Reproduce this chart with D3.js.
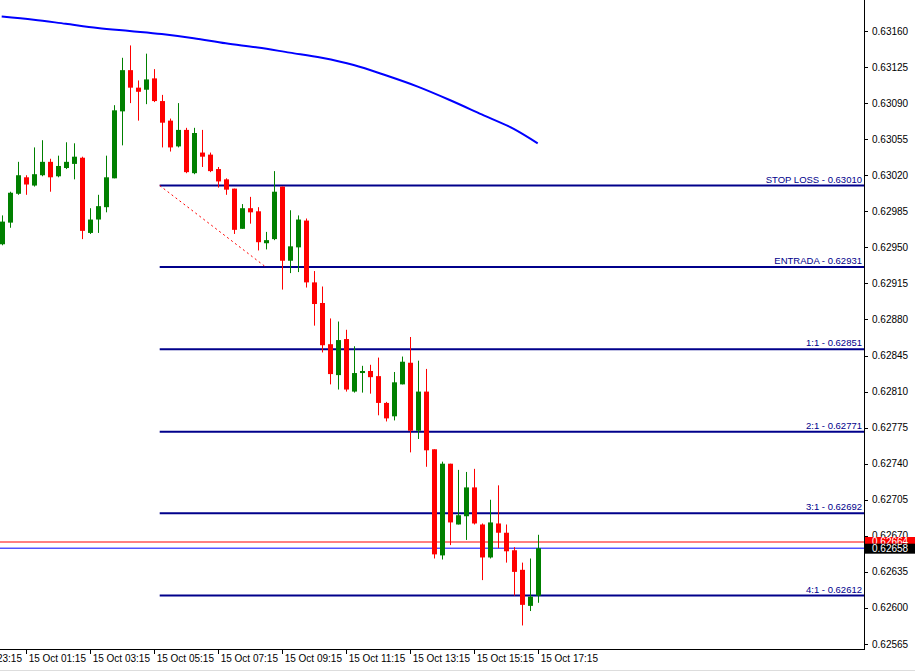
<!DOCTYPE html>
<html>
<head>
<meta charset="utf-8">
<script src="https://cdn.jsdelivr.net/npm/d3@7"></script>
<style>
body { margin: 0; background: #fff; }
text { font-family: "Liberation Sans", Arial, sans-serif; }
</style>
</head>
<body>
<svg id="chart" width="915" height="672"></svg>
<script>
// 15 minute candles, 15 Oct 00:30 .. 17:15 (prices in 1e-5 units)
const opens  = [62953,62974,63002,63018,63010,63020,63033,63019,63027,63031,63037,62964,62977,62989,63017,63082,63122,63105,63103,63114,
                63092,63073,63048,63064,63022,63042,63040,63026,63016,63007,62968,62988,62985,62954,62958,63009,62937,62950,62976,62916,
                62896,62856,62826,62861,62810,62828,62830,62825,62799,62786,62817,62838,62772,62810,62754,62651,62740,62681,62689,62717,
                62681,62649,62682,62673,62656,62637,62602,62612]
const highs  = [62981,63004,63033,63020,63047,63054,63036,63039,63052,63051,63038,62988,63001,63039,63088,63134,63146,63112,63138,63123,
                63098,63075,63090,63066,63066,63064,63042,63028,63017,63007,62992,62999,62989,62965,63024,63009,62986,62981,62978,62927,
                62912,62881,62878,62870,62854,62835,62836,62843,62800,62829,62844,62863,62840,62832,62754,62742,62740,62734,62732,62735,
                62682,62705,62719,62681,62659,62644,62648,62671]
const lows   = [62952,62969,63001,63001,63009,63019,63004,63018,63026,63016,62958,62963,62964,62984,63017,63049,63090,63073,63089,63091,
                63047,63043,63047,63022,63021,63028,63023,63008,63001,62963,62968,62973,62947,62948,62957,62909,62925,62926,62911,62874,
                62848,62817,62812,62810,62809,62809,62808,62787,62781,62782,62817,62751,62764,62737,62648,62647,62661,62681,62666,62681,
                62627,62648,62658,62644,62612,62583,62597,62605]
const closes = [62975,63003,63020,63011,63021,63033,63018,63029,63033,63038,62966,62977,62990,63018,63083,63122,63105,63101,63113,63092,
                63071,63047,63064,63023,63061,63038,63024,63014,63006,62967,62988,62984,62955,62957,63004,62937,62951,62977,62916,62895,
                62855,62827,62860,62812,62828,62830,62824,62799,62784,62819,62839,62772,62810,62753,62652,62740,62683,62690,62717,62682,
                62649,62683,62673,62655,62635,62603,62611,62658]

// moving average read every 4 candles
const maIndex  = [0,4,8,12,16,20,24,28,32,36,40,44,48,52,56,60,64,67]
const maValues = [63174,63171,63167,63163,63160,63157,63153,63148,63144,63139,63134,63127,63117,63106,63093,63079,63065,63051]

const levelNames  = ['STOP LOSS', 'ENTRADA', '1:1', '2:1', '3:1', '4:1']
const levelValues = [63010, 62931, 62851, 62771, 62692, 62612]

const priceTicks = [63160,63125,63090,63055,63020,62985,62950,62915,62880,62845,62810,62775,62740,62705,62670,62635,62600,62565]
const timeTickIndex = [-5,3,11,19,27,35,43,51,59,67]
const timeTickLabels = ['14 Oct 23:15','15 Oct 01:15','15 Oct 03:15','15 Oct 05:15','15 Oct 07:15','15 Oct 09:15',
                        '15 Oct 11:15','15 Oct 13:15','15 Oct 15:15','15 Oct 17:15']
const bid = 62658, ask = 62664

const plotW = 864, plotH = 649
const fmt = v => (v / 1e5).toFixed(5)

const svg = d3.select('#chart')
const x = d3.scaleLinear([0, 67], [1.7, 537.7])
const y = d3.scaleLinear([63160, 62565], [31, 644])

const plot = svg.append('g')

// ask / bid lines
plot.append('line').attr('x1', 0).attr('x2', plotW).attr('y1', y(ask)).attr('y2', y(ask))
    .attr('stroke', '#ff0000').attr('stroke-width', 1)
plot.append('line').attr('x1', 0).attr('x2', plotW).attr('y1', y(bid)).attr('y2', y(bid))
    .attr('stroke', '#0000ff').attr('stroke-width', 1)

// level lines
const x0 = x(20) - 2
plot.selectAll('.lvl').data(levelValues).join('line')
    .attr('x1', x0).attr('x2', plotW)
    .attr('y1', d => y(d)).attr('y2', d => y(d))
    .attr('stroke', '#00008b').attr('stroke-width', 2)
plot.selectAll('.lvlt').data(levelValues).join('text')
    .attr('x', plotW - 2).attr('y', d => y(d) - 3)
    .attr('text-anchor', 'end').attr('font-size', '9.5px').attr('fill', '#00008b')
    .text((d, i) => levelNames[i] + ' - ' + fmt(d))

// dashed trend line
plot.append('line')
    .attr('x1', x0).attr('y1', y(levelValues[0]))
    .attr('x2', x(33)).attr('y2', y(levelValues[1]))
    .attr('stroke', '#ff0000').attr('stroke-dasharray', '2,3')

// moving average
plot.append('path')
    .datum(maIndex.map((d, i) => [d, maValues[i]]))
    .attr('d', d3.line().x(d => x(d[0])).y(d => y(d[1])).curve(d3.curveMonotoneX))
    .attr('fill', 'none').attr('stroke', '#0000ff').attr('stroke-width', 2)

// candles
const candles = opens.map((o, i) => ({i, o, h: highs[i], l: lows[i], c: closes[i]}))
const col = d => d.c >= d.o ? '#008000' : '#ff0000'
plot.selectAll('.wick').data(candles).join('line')
    .attr('x1', d => Math.round(x(d.i)) + 0.5).attr('x2', d => Math.round(x(d.i)) + 0.5)
    .attr('y1', d => y(d.h)).attr('y2', d => y(d.l))
    .attr('stroke', col).attr('stroke-width', 1)
plot.selectAll('.body').data(candles).join('rect')
    .attr('x', d => Math.round(x(d.i)) - 2).attr('width', 5)
    .attr('y', d => y(Math.max(d.o, d.c)))
    .attr('height', d => Math.max(1.5, Math.abs(y(d.o) - y(d.c))))
    .attr('fill', col)

// frame
svg.append('line').attr('x1', plotW + 0.5).attr('x2', plotW + 0.5).attr('y1', 0).attr('y2', plotH)
    .attr('stroke', '#000')
svg.append('line').attr('x1', 0).attr('x2', plotW + 1).attr('y1', plotH + 0.5).attr('y2', plotH + 0.5)
    .attr('stroke', '#000')
svg.append('line').attr('x1', 0).attr('x2', 915).attr('y1', 670.5).attr('y2', 670.5)
    .attr('stroke', '#ddd')

// price axis
const pa = svg.append('g')
pa.selectAll('line').data(priceTicks).join('line')
    .attr('x1', plotW).attr('x2', plotW + 4)
    .attr('y1', d => Math.round(y(d)) + 0.5).attr('y2', d => Math.round(y(d)) + 0.5)
    .attr('stroke', '#000')
pa.selectAll('text').data(priceTicks).join('text')
    .attr('x', plotW + 8).attr('y', d => y(d) + 3.5)
    .attr('font-size', '10px').attr('fill', '#000')
    .text(fmt)

// ask / bid tags
svg.append('rect').attr('x', plotW + 1).attr('y', y(ask) - 5).attr('width', 50).attr('height', 9).attr('fill', '#ff0000')
svg.append('text').attr('x', plotW + 8).attr('y', y(ask) + 3).attr('font-size', '10px').attr('fill', '#fff').text(fmt(ask))
svg.append('rect').attr('x', plotW + 1).attr('y', y(bid) - 4.5).attr('width', 50).attr('height', 10).attr('fill', '#000')
svg.append('text').attr('x', plotW + 8).attr('y', y(bid) + 3.5).attr('font-size', '10px').attr('fill', '#fff').text(fmt(bid))

// time axis
const ta = svg.append('g')
ta.selectAll('line').data(timeTickIndex).join('line')
    .attr('x1', d => Math.round(x(d)) + 0.5).attr('x2', d => Math.round(x(d)) + 0.5)
    .attr('y1', plotH).attr('y2', plotH + 5)
    .attr('stroke', '#000')
ta.selectAll('text').data(timeTickIndex).join('text')
    .attr('x', d => x(d) + 3).attr('y', plotH + 13)
    .attr('font-size', '10px').attr('fill', '#000')
    .text((d, i) => timeTickLabels[i])
</script>
</body>
</html>
